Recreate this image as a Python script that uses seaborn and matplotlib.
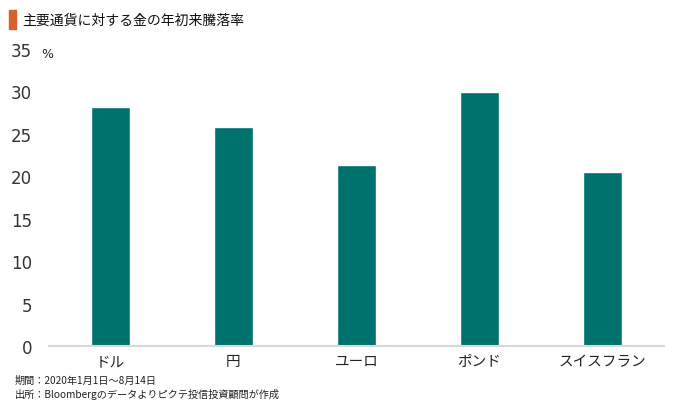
import matplotlib
matplotlib.use("Agg")
import matplotlib.pyplot as plt
import matplotlib.patches as mpatches
from matplotlib import font_manager
import seaborn as sns
import pandas as pd

currencies = ["ドル", "円", "ユーロ", "ポンド", "スイスフラン"]
gains = [28.1, 25.8, 21.3, 29.9, 20.5]
yticks = [0, 5, 10, 15, 20, 25, 30, 35]

sns.set_style("white")
plt.rcParams['font.family'] = ['Noto Sans CJK JP', 'DejaVu Sans']

# narrow font for the y tick numbers if available
try:
    font_manager.findfont("Liberation Sans Narrow", fallback_to_default=False)
    tick_family = "Liberation Sans Narrow"
except ValueError:
    tick_family = "DejaVu Sans"

df = pd.DataFrame({"currency": currencies, "gain": gains})

fig = plt.figure(figsize=(6.8, 4.06), dpi=100)
ax = fig.add_axes([0.072, 0.1453, 0.904, 0.7327])
sns.barplot(data=df, x="currency", y="gain", color="#00726D", width=0.32,
            saturation=1, ax=ax)

ax.set_xlim(-0.5, 4.5)
ax.set_ylim(0, 35)
ax.set_yticks(yticks)
ax.set_yticklabels([str(t) for t in yticks], fontsize=12, color="#333333",
                   family=tick_family)
ax.tick_params(axis='y', length=0, pad=12)
ax.tick_params(axis='x', length=0, pad=6, labelsize=10.5, labelcolor="#222222")
ax.set_xlabel("")
ax.set_ylabel("")
for s in ["top", "right", "left"]:
    ax.spines[s].set_visible(False)
ax.spines["bottom"].set_color("#d9d9d9")
ax.spines["bottom"].set_linewidth(1.5)

fig.text(0.060, 0.865, "%", fontsize=9, color="#222222", va="center",
         family=tick_family)

# title with orange marker
fig.patches.append(mpatches.Rectangle((0.013, 0.925), 0.011, 0.048,
                                      transform=fig.transFigure,
                                      color="#D4622A"))
fig.text(0.032, 0.949, "主要通貨に対する金の年初来騰落率", fontsize=10,
         color="#111111", va="center")

fig.text(0.022, 0.061, "期間：2020年1月1日～8月14日", fontsize=7.3,
         color="#222222", va="center")
fig.text(0.022, 0.029, "出所：Bloombergのデータよりピクテ投信投資顧問が作成",
         fontsize=7.3, color="#222222", va="center")

fig.savefig("out.png", dpi=100)
